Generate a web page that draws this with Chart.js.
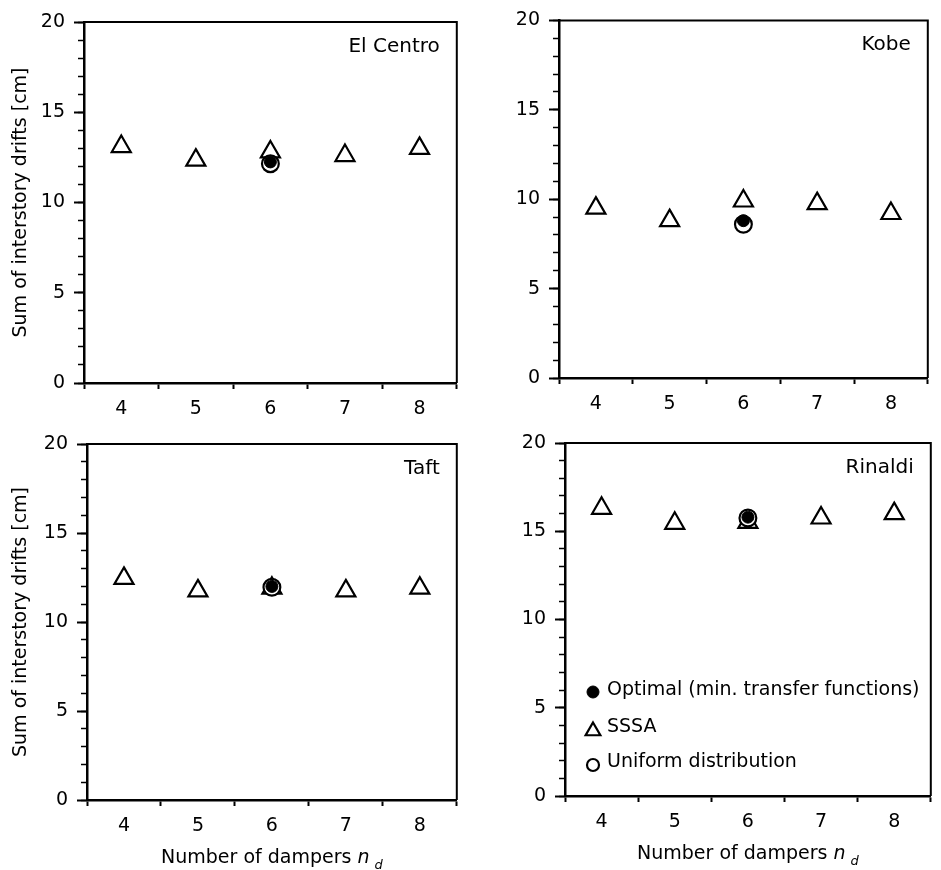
<!DOCTYPE html>
<html>
<head>
<meta charset="utf-8">
<script src="https://cdn.jsdelivr.net/npm/chart.js@4.4.1/dist/chart.umd.min.js"></script>
<style>
  html, body { margin: 0; padding: 0; background: #fff; }
  #page { position: relative; width: 941px; height: 870px; overflow: hidden; background: #fff; }
  #page canvas { position: absolute; }
</style>
</head>
<body>
<div id="page">
  <canvas id="c0"></canvas>
  <canvas id="c1"></canvas>
  <canvas id="c2"></canvas>
  <canvas id="c3"></canvas>
</div>
<script>
// number of dampers on the x axis
const dampers = [4, 5, 6, 7, 8];
const quakes = ["El Centro", "Kobe", "Taft", "Rinaldi"];

// SSSA results, one array per ground motion (sum of interstory drifts, cm)
const sssaElCentro = [13.1, 12.35, 12.8, 12.6, 13.0];
const sssaKobe = [9.5, 8.8, 9.9, 9.75, 9.2];
const sssaTaft = [12.45, 11.75, 11.9, 11.75, 11.9];
const sssaRinaldi = [16.3, 15.45, 15.5, 15.75, 16.0];
const sssa = [sssaElCentro, sssaKobe, sssaTaft, sssaRinaldi];

// optimal and uniform only computed for nd = 6
const singleNd = 6;
const optimalDrift = [12.25, 8.8, 12.0, 15.8];
const uniformDrift = [12.15, 8.6, 11.95, 15.75];

const yTicks = [0, 5, 10, 15, 20];
const xRange = [3.5, 8.5];

const seriesNames = ["Optimal (min. transfer functions)", "SSSA", "Uniform distribution"];

// where each panel sits on the page and where its plot box goes
const panels = [
  { left: 0,   top: 0,   w: 470, h: 420, area: { l: 84, r: 464, t: 22, b: 383 }, yTitle: true,  xTitle: false, legend: false },
  { left: 470, top: 0,   w: 471, h: 420, area: { l: 89, r: 468, t: 18, b: 378 }, yTitle: false, xTitle: false, legend: false },
  { left: 0,   top: 420, w: 470, h: 450, area: { l: 87, r: 466, t: 24, b: 380 }, yTitle: true,  xTitle: true,  legend: false },
  { left: 470, top: 420, w: 474, h: 450, area: { l: 95, r: 472, t: 23, b: 376 }, yTitle: false, xTitle: true,  legend: true }
];

const FONT = '"DejaVu Sans"';
Chart.defaults.font.family = FONT;
Chart.defaults.color = "#000";

const markerStyles = {
  optimal: { pointStyle: "circle", radius: 6, borderWidth: 1, fill: "#000" },
  sssa: { pointStyle: "triangle", radius: 11, borderWidth: 2.2, fill: "#fff" },
  uniform: { pointStyle: "circle", radius: 8.4, borderWidth: 2.2, fill: "#fff" }
};

const isWhole = v => Math.abs(v - Math.round(v)) < 1e-6;

function drawMarker(ctx, st, r, x, y) {
  ctx.fillStyle = st.fill;
  ctx.strokeStyle = "#000";
  ctx.lineWidth = st.borderWidth;
  Chart.helpers.drawPoint(ctx, { pointStyle: st.pointStyle, radius: r, borderWidth: st.borderWidth, rotation: 0 }, x, y);
}

// frame, panel name, x title with subscript, legend
const decor = {
  id: "decor",
  afterDraw(chart, args, opts) {
    const { ctx, chartArea: a } = chart;
    ctx.save();
    ctx.strokeStyle = "#000";
    ctx.lineWidth = 2;
    ctx.beginPath();
    ctx.moveTo(a.left, a.top);
    ctx.lineTo(a.right, a.top);
    ctx.lineTo(a.right, a.bottom);
    ctx.stroke();

    ctx.fillStyle = "#000";
    ctx.textBaseline = "alphabetic";
    ctx.font = "20px " + FONT;
    ctx.textAlign = "right";
    ctx.fillText(opts.label, a.right - 17, a.top + 30);

    if (opts.xTitle) {
      const main = "Number of dampers ";
      ctx.font = "19px " + FONT;
      const w1 = ctx.measureText(main).width;
      ctx.font = "italic 19px " + FONT;
      const w2 = ctx.measureText("n").width;
      ctx.font = "italic 13px " + FONT;
      const w3 = ctx.measureText("d").width;
      const gap = 5;
      let x = (a.left + a.right) / 2 - (w1 + w2 + gap + w3) / 2;
      const y = a.bottom + 63;
      ctx.textAlign = "left";
      ctx.font = "19px " + FONT;
      ctx.fillText(main, x, y);
      x += w1;
      ctx.font = "italic 19px " + FONT;
      ctx.fillText("n", x, y);
      x += w2 + gap;
      ctx.font = "italic 13px " + FONT;
      ctx.fillText("d", x, y + 6);
    }

    if (opts.legend) {
      const rows = [
        { st: markerStyles.optimal, r: 6, dy: -104, ty: -101 },
        { st: markerStyles.sssa, r: 8.5, dy: -65, ty: -64 },
        { st: markerStyles.uniform, r: 6, dy: -31, ty: -29 }
      ];
      rows.forEach((row, i) => {
        drawMarker(ctx, row.st, row.r, a.left + 28, a.bottom + row.dy);
        ctx.fillStyle = "#000";
        ctx.font = "19px " + FONT;
        ctx.textAlign = "left";
        ctx.fillText(seriesNames[i], a.left + 42, a.bottom + row.ty);
      });
    }
    ctx.restore();
  }
};

function makeDataset(label, points, st, order) {
  return {
    label: label,
    data: points,
    pointStyle: st.pointStyle,
    pointRadius: st.radius,
    pointHoverRadius: st.radius,
    pointBorderWidth: st.borderWidth,
    pointBackgroundColor: st.fill,
    pointBorderColor: "#000",
    showLine: false,
    order: order
  };
}

panels.forEach((p, i) => {
  const canvas = document.getElementById("c" + i);
  canvas.width = p.w;
  canvas.height = p.h;
  canvas.style.left = p.left + "px";
  canvas.style.top = p.top + "px";

  const sssaPts = dampers.map((d, k) => ({ x: d, y: sssa[i][k] }));

  new Chart(canvas.getContext("2d"), {
    type: "scatter",
    data: {
      datasets: [
        makeDataset(seriesNames[0], [{ x: singleNd, y: optimalDrift[i] }], markerStyles.optimal, 1),
        makeDataset(seriesNames[2], [{ x: singleNd, y: uniformDrift[i] }], markerStyles.uniform, 2),
        makeDataset(seriesNames[1], sssaPts, markerStyles.sssa, 3)
      ]
    },
    options: {
      responsive: false,
      animation: false,
      layout: { padding: { top: p.area.t, right: p.w - p.area.r, left: 0, bottom: 0 } },
      plugins: {
        legend: { display: false },
        tooltip: { enabled: false },
        decor: { label: quakes[i], xTitle: p.xTitle, legend: p.legend }
      },
      scales: {
        x: {
          type: "linear",
          min: xRange[0],
          max: xRange[1],
          border: { display: true, color: "#000", width: 2.5 },
          grid: {
            drawOnChartArea: false,
            drawTicks: true,
            tickLength: 6,
            tickWidth: 2,
            tickColor: c => (isWhole(c.tick.value) ? "rgba(0,0,0,0)" : "#000")
          },
          ticks: {
            stepSize: 0.5,
            autoSkip: false,
            maxRotation: 0,
            padding: 9,
            font: { size: 19 },
            callback: v => (isWhole(v) && dampers.includes(Math.round(v)) ? String(Math.round(v)) : "")
          },
          afterFit: s => { s.height = p.h - p.area.b; }
        },
        y: {
          type: "linear",
          position: "left",
          weight: 1,
          min: yTicks[0],
          max: yTicks[yTicks.length - 1],
          border: { display: true, color: "#000", width: 2.5 },
          grid: { drawOnChartArea: false, drawTicks: true, tickLength: 10, tickWidth: 2, tickColor: "#000" },
          ticks: { stepSize: 5, padding: 9, font: { size: 19 } },
          title: {
            display: p.yTitle,
            text: "Sum of interstory drifts [cm]",
            font: { size: 19 },
            padding: { top: 10, bottom: 0 }
          },
          afterFit: s => { s.width = p.area.l; }
        },
        yMinor: {
          type: "linear",
          position: "left",
          weight: 0,
          min: yTicks[0],
          max: yTicks[yTicks.length - 1],
          border: { display: false },
          grid: { drawOnChartArea: false, drawTicks: true, tickLength: 6, tickWidth: 1.5, tickColor: "#000" },
          ticks: { stepSize: 1, display: false },
          afterFit: s => { s.width = 0; }
        }
      }
    },
    plugins: [decor]
  });
});
</script>
</body>
</html>
